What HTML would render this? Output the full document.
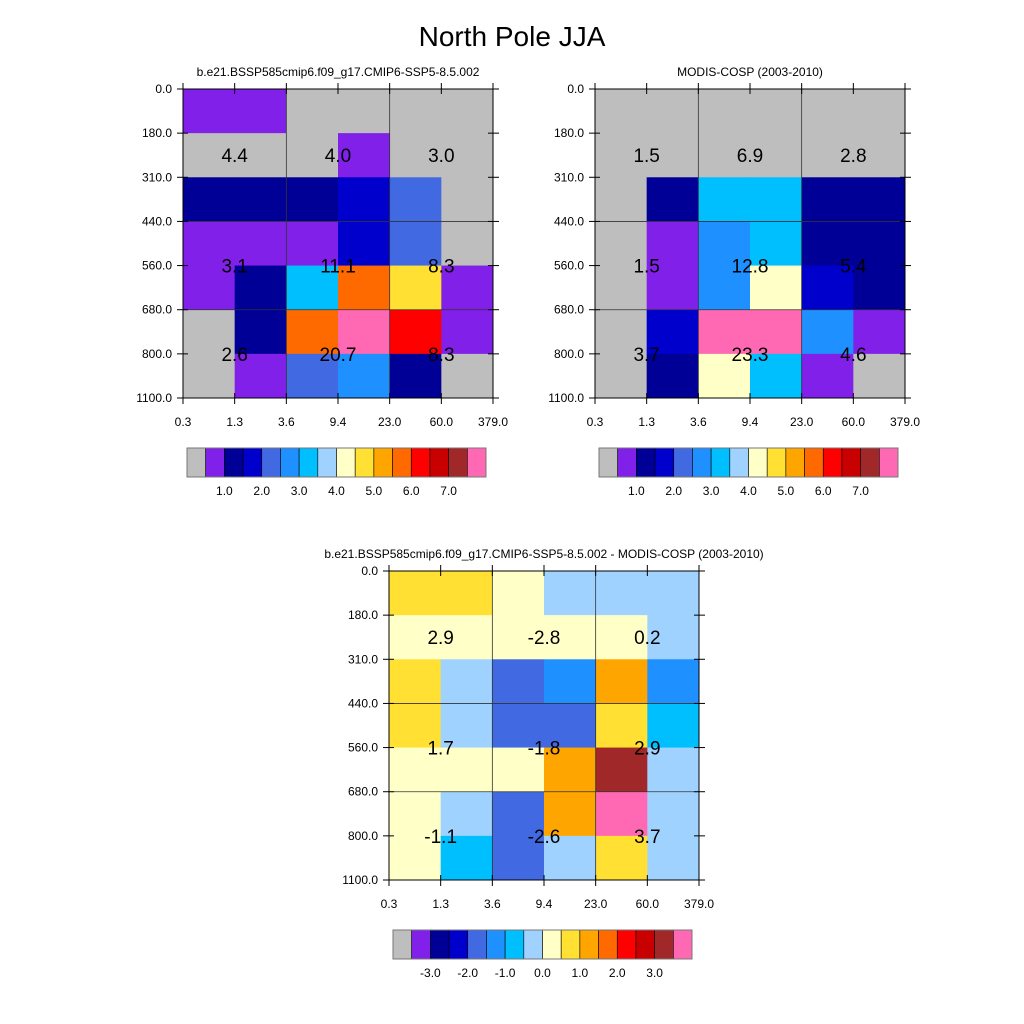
<!DOCTYPE html>
<html><head><meta charset="utf-8">
<style>
body{margin:0;background:#fff;}
svg{display:block;font-family:"Liberation Sans",sans-serif;}
</style></head>
<body>
<svg id="chart" width="1024" height="1024" viewBox="0 0 1024 1024">
<text x="512" y="46" font-size="28" text-anchor="middle">North Pole JJA</text>
</svg>
<script>
const palette=["#bebebe","#8020e8","#000096","#0000cd","#4169e1","#1e90ff","#00bfff","#a0d2ff","#ffffc8","#ffe033","#ffa500","#ff6a00","#ff0000","#c80000","#a02828","#ff69b4"];
const xTicks=["0.3","1.3","3.6","9.4","23.0","60.0","379.0"];
const yTicks=["0.0","180.0","310.0","440.0","560.0","680.0","800.0","1100.0"];
const grid1=[[1,1,0,0,0,0],[0,0,0,1,0,0],[2,2,2,3,4,0],[1,1,1,3,4,0],[1,2,6,11,9,1],[0,2,11,15,12,1],[0,1,4,5,2,0]];
const grid2=[[0,0,0,0,0,0],[0,0,0,0,0,0],[0,2,6,6,2,2],[0,1,5,6,2,2],[0,1,5,8,3,2],[0,3,15,15,5,1],[0,2,8,6,1,0]];
const grid3=[[9,9,8,7,7,7],[8,8,8,8,8,7],[9,7,4,5,10,5],[9,7,4,4,9,6],[8,8,8,10,14,7],[8,7,4,10,15,7],[8,6,4,7,9,7]];
const vals1=["4.4","4.0","3.0","3.1","11.1","8.3","2.6","20.7","8.3"];
const vals2=["1.5","6.9","2.8","1.5","12.8","5.4","3.7","23.3","4.6"];
const vals3=["2.9","-2.8","0.2","1.7","-1.8","2.9","-1.1","-2.6","3.7"];
const cbLabels1=["1.0","2.0","3.0","4.0","5.0","6.0","7.0"];
const cbLabels3=["-3.0","-2.0","-1.0","0.0","1.0","2.0","3.0"];
const titles=["b.e21.BSSP585cmip6.f09_g17.CMIP6-SSP5-8.5.002","MODIS-COSP (2003-2010)","b.e21.BSSP585cmip6.f09_g17.CMIP6-SSP5-8.5.002 - MODIS-COSP (2003-2010)"];

const svg=document.getElementById('chart');
const NS="http://www.w3.org/2000/svg";
function mk(tag,attrs,parent){const e=document.createElementNS(NS,tag);for(const k in attrs)e.setAttribute(k,attrs[k]);(parent||svg).appendChild(e);return e;}

function panel(x0,y0,grid,vals,title,name,cbx,cby,cbl){
  const W=310,H=309,nc=6,nr=7;
  const g=mk('g',{});
  
  
  const xs=i=>x0+i*W/nc, ys=j=>y0+j*H/nr;
  const t=mk('text',{x:x0+W/2,y:y0-13,'font-size':12,'text-anchor':'middle'},g);t.textContent=title;
  
  
  grid.forEach((row,j)=>row.forEach((c,i)=>{
    const r=mk('rect',{x:xs(i),y:ys(j),width:W/nc+0.5,height:H/nr+0.5,fill:palette[c]},g);
    
    
  }));
  [2,4].forEach(i=>mk('line',{x1:xs(i),x2:xs(i),y1:y0,y2:y0+H,stroke:'#333','stroke-width':0.8},g));
  [3,5].forEach(j=>mk('line',{x1:x0,x2:x0+W,y1:ys(j),y2:ys(j),stroke:'#333','stroke-width':0.8},g));
  mk('rect',{x:x0,y:y0,width:W,height:H,fill:'none',stroke:'#000','stroke-width':1},g);
  xTicks.forEach((l,i)=>{
    mk('line',{x1:xs(i),x2:xs(i),y1:y0+H-5,y2:y0+H+6,stroke:'#000'},g);
    mk('line',{x1:xs(i),x2:xs(i),y1:y0-6,y2:y0+5,stroke:'#000'},g);
    const tt=mk('text',{x:xs(i),y:y0+H+28,'font-size':12,'text-anchor':'middle'},g);tt.textContent=l;
    
    
  });
  yTicks.forEach((l,j)=>{
    mk('line',{x1:x0-6,x2:x0+5,y1:ys(j),y2:ys(j),stroke:'#000'},g);
    mk('line',{x1:x0+W-5,x2:x0+W+6,y1:ys(j),y2:ys(j),stroke:'#000'},g);
    const tt=mk('text',{x:x0-11,y:ys(j)+4,'font-size':12,'text-anchor':'end'},g);tt.textContent=l;
    
    
  });
  const lx=[1,3,5], ly=[ys(1.5),ys(4),ys(6)];
  vals.forEach((v,k)=>{
    const tt=mk('text',{x:xs(lx[k%3]),y:ly[Math.floor(k/3)]+7,'font-size':19,'text-anchor':'middle'},g);tt.textContent=v;
    
    
  });
  const cb=mk('g',{});
  
  
  const bw=299/16;
  palette.forEach((c,i)=>mk('rect',{x:cbx+i*bw,y:cby,width:bw,height:29,fill:c,stroke:'#000','stroke-width':0.6},cb));
  mk('rect',{x:cbx,y:cby,width:299,height:29,fill:'none',stroke:'#777','stroke-width':1},cb);
  cbl.forEach((l,i)=>{
    const tt=mk('text',{x:cbx+(2+2*i)*bw,y:cby+47,'font-size':12,'text-anchor':'middle'},cb);tt.textContent=l;
    
    
  });
}
panel(183,89,grid1,vals1,titles[0],'panel-model',187,448,cbLabels1);
panel(595,89,grid2,vals2,titles[1],'panel-modis',599,448,cbLabels1);
panel(389,571,grid3,vals3,titles[2],'panel-difference',393,930,cbLabels3);
</script>
</body></html>
